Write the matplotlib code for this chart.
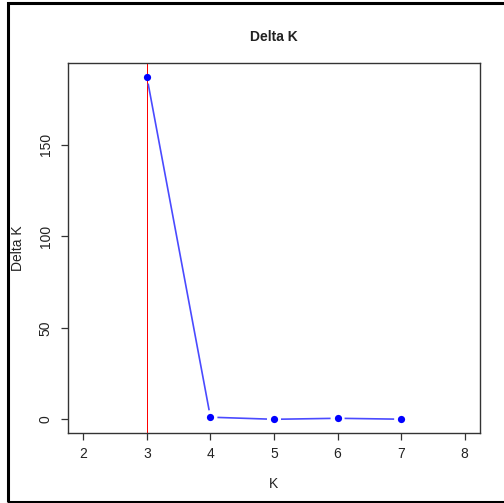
import matplotlib
matplotlib.use("Agg")
import matplotlib.pyplot as plt
import numpy as np
from matplotlib.patches import Rectangle

plt.rcParams['font.family'] = ['Liberation Sans', 'DejaVu Sans']

K = [3, 4, 5, 6, 7]
delta_k = [187.2, 1.2, 0.05, 0.6, 0.1]
best_k = 3
x_ticks = [2, 3, 4, 5, 6, 7, 8]
y_ticks = [0, 50, 100, 150]
title = "Delta K"
xlabel = "K"
ylabel = "Delta K"

W, H = 504, 503
fig = plt.figure(figsize=(W / 100, H / 100), dpi=100)
ax = fig.add_axes([68 / W, 1 - 433 / H, (480 - 68) / W, (433 - 63) / H])

# R-style 4% expansion
xmin, xmax = min(x_ticks), max(x_ticks)
xr = xmax - xmin
ax.set_xlim(xmin - 0.04 * xr, xmax + 0.04 * xr)
ymin, ymax = min(delta_k), max(delta_k)
yr = ymax - ymin
ax.set_ylim(ymin - 0.04 * yr, ymax + 0.04 * yr)

ax.axvline(best_k, color='#ff0000', lw=0.72, antialiased=False, zorder=1)

# type="b": line segments with gaps around points
pts = ax.transData.transform(np.column_stack([K, delta_k]))
gap = 7.0
inv = ax.transData.inverted()
for i in range(len(pts) - 1):
    p0, p1 = pts[i], pts[i + 1]
    d = p1 - p0
    L = np.hypot(*d)
    if L <= 2 * gap:
        continue
    u = d / L
    a = inv.transform(p0 + u * gap)
    b = inv.transform(p1 - u * gap)
    ax.plot([a[0], b[0]], [a[1], b[1]], color='#4a4aff', lw=1.2,
            solid_capstyle='butt', zorder=2)

ax.plot(K, delta_k, 'o', color='#0000ff', ms=5.2, mew=0, zorder=3)

ax.set_xticks(x_ticks)
ax.set_yticks(y_ticks)
ax.set_yticklabels([str(v) for v in y_ticks], rotation=90, va='center')
ax.tick_params(axis='both', direction='out', length=5, width=0.9,
               color='#333333', labelsize=10, labelcolor='#222222')
ax.tick_params(axis='x', pad=5)
ax.tick_params(axis='y', pad=6)
for s in ax.spines.values():
    s.set_color('#333333')
    s.set_linewidth(1.0)

ax.set_title(title, fontsize=10, fontweight='bold', color='#222222', pad=16)
ax.set_xlabel(xlabel, fontsize=10, color='#222222')
ax.set_ylabel(ylabel, fontsize=10, color='#222222')
ax.xaxis.set_label_coords(0.5, -(484 - 433) / 370)
ax.xaxis.label.set_va('center')
ax.yaxis.set_label_coords(-(68 - 18) / 412, 0.5)
ax.yaxis.label.set_va('center')

# outer frame of the screenshot
fig.patches.append(Rectangle((8 / W, 1 - 502 / H), 1.2, (502 - 3) / H,
                             transform=fig.transFigure, fill=False,
                             edgecolor='black', lw=2.2, zorder=10))

fig.savefig("out.png", dpi=100)
